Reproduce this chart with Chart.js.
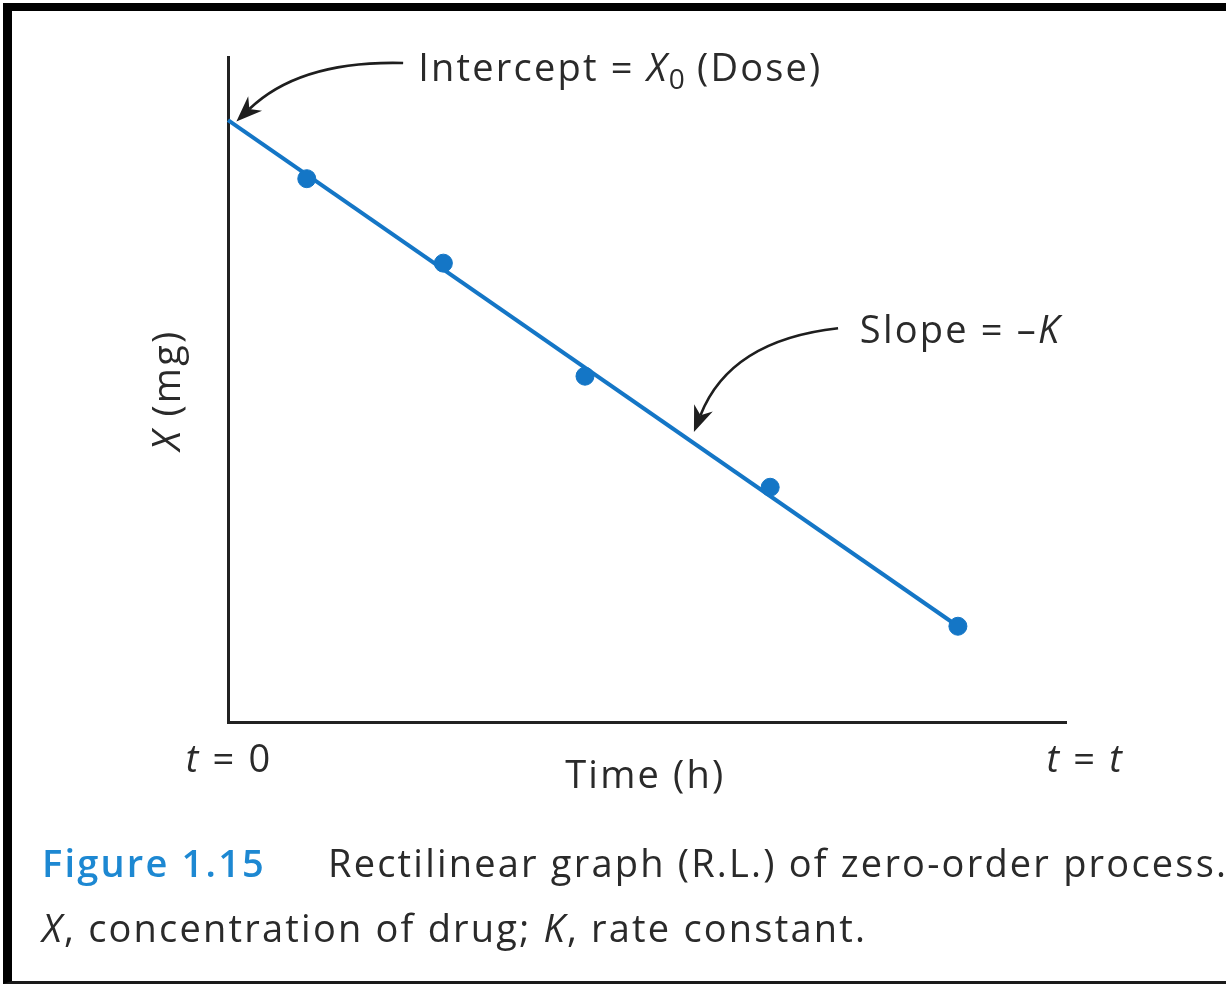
<!DOCTYPE html>
<html>
<head>
<meta charset="utf-8">
<script src="https://cdn.jsdelivr.net/npm/chart.js@4/dist/chart.umd.min.js"></script>
<style>
  html, body { margin: 0; padding: 0; background: #fff; overflow: hidden; }
  #frame {
    position: absolute; left: 3px; top: 3px; width: 1300px; height: 970px;
    border-left: 9px solid #000; border-top: 8px solid #000; border-bottom: 3px solid #1a1a1a;
  }
  #plot { position: absolute; left: 0; top: 0; }
</style>
</head>
<body>
<div id="frame"></div>
<canvas id="plot" width="1226" height="984"></canvas>
<script>
// measured amounts of drug remaining at each sampling time
const sampleTimes = [0.94, 2.57, 4.26, 6.47, 8.71];
const sampleAmounts = [8.17, 6.90, 5.20, 3.53, 1.44];

// fitted zero-order line: starts at the dose, ends at the last sample
const fitTimes = [0, 8.71];
const fitAmounts = [9.05, 1.44];

const BLUE = '#1476c6';
const INK = '#2a2a2a';
const FONT = '"Open Sans", Lato, sans-serif';
const SIZE = 38;
const SPACING = 2.2;

function font(size, style) {
  return (style || '') + ' ' + size + 'px ' + FONT;
}

// draws a run of text pieces with their own style, left/center aligned at x
function drawRich(ctx, x, y, parts, align) {
  let total = 0;
  ctx.letterSpacing = '0px';
  parts.forEach(p => {
    ctx.font = font(p.size, p.style);
    p.w = ctx.measureText(p.text).width + SPACING * p.text.length;
    total += p.w + (p.gap || 0);
  });
  let cx = align === 'center' ? x - total / 2 : x;
  ctx.textAlign = 'left';
  ctx.textBaseline = 'alphabetic';
  ctx.letterSpacing = SPACING + 'px';
  parts.forEach(p => {
    ctx.font = font(p.size, p.style);
    ctx.fillStyle = p.color || INK;
    ctx.fillText(p.text, cx, y + (p.dy || 0));
    cx += p.w + (p.gap || 0);
  });
  ctx.letterSpacing = '0px';
}

function curvedArrow(ctx, from, ctrl, tip) {
  ctx.save();
  ctx.strokeStyle = '#1e1e1e';
  ctx.fillStyle = '#1e1e1e';
  ctx.lineWidth = 2.6;
  const ang = Math.atan2(tip.y - ctrl.y, tip.x - ctrl.x);
  const len = 26, half = 10, notch = 8;
  const back = { x: tip.x - Math.cos(ang) * (len - notch), y: tip.y - Math.sin(ang) * (len - notch) };
  ctx.beginPath();
  ctx.moveTo(from.x, from.y);
  ctx.quadraticCurveTo(ctrl.x, ctrl.y, back.x, back.y);
  ctx.stroke();
  const bx = tip.x - Math.cos(ang) * len, by = tip.y - Math.sin(ang) * len;
  const nx = -Math.sin(ang), ny = Math.cos(ang);
  ctx.beginPath();
  ctx.moveTo(tip.x, tip.y);
  ctx.lineTo(bx + nx * half, by + ny * half);
  ctx.lineTo(back.x, back.y);
  ctx.lineTo(bx - nx * half, by - ny * half);
  ctx.closePath();
  ctx.fill();
  ctx.restore();
}

const labels = {
  id: 'labels',
  afterDraw(chart) {
    const ctx = chart.ctx;
    const xs = chart.scales.x, ys = chart.scales.y;
    const px = v => xs.getPixelForValue(v);
    const py = v => ys.getPixelForValue(v);
    const area = chart.chartArea;

    ctx.save();
    // axis end labels and titles
    drawRich(ctx, px(0) + 1, area.bottom + 50, [
      { text: 't', size: SIZE, style: 'italic' }, { text: ' = 0', size: SIZE }
    ], 'center');
    drawRich(ctx, px(10.23), area.bottom + 50, [
      { text: 't', size: SIZE, style: 'italic' }, { text: ' = ', size: SIZE },
      { text: 't', size: SIZE, style: 'italic' }
    ], 'center');
    drawRich(ctx, px(4.98), area.bottom + 66, [{ text: 'Time (h)', size: SIZE }], 'center');

    ctx.save();
    ctx.translate(area.left - 48, py(4.99));
    ctx.rotate(-Math.PI / 2);
    drawRich(ctx, 0, 0, [
      { text: 'X', size: SIZE, style: 'italic' }, { text: ' (mg)', size: SIZE }
    ], 'center');
    ctx.restore();

    // intercept note
    drawRich(ctx, px(2.27), py(9.83) + 13, [
      { text: 'Intercept = ', size: SIZE },
      { text: 'X', size: SIZE, style: 'italic' },
      { text: '0', size: 28, dy: 8, gap: 10 },
      { text: '(Dose)', size: SIZE }
    ], 'left');
    curvedArrow(ctx, { x: px(2.09), y: py(9.91) }, { x: px(0.86), y: py(9.95) },
      { x: px(0.1), y: py(9.03) });

    // slope note
    drawRich(ctx, px(7.54), py(5.89) + 13, [
      { text: 'Slope = \u2013', size: SIZE },
      { text: 'K', size: SIZE, style: 'italic' }
    ], 'left');
    curvedArrow(ctx, { x: px(7.28), y: py(5.92) }, { x: px(5.99), y: py(5.74) },
      { x: px(5.56), y: py(4.36) });

    // caption
    drawRich(ctx, 42, 877, [
      { text: 'Figure 1.15', size: SIZE, style: '600', color: '#1d88d2', gap: 62 },
      { text: 'Rectilinear graph (R.L.) of zero-order process.', size: SIZE }
    ], 'left');
    drawRich(ctx, 42, 942, [
      { text: 'X', size: SIZE, style: 'italic' },
      { text: ', concentration of drug; ', size: SIZE },
      { text: 'K', size: SIZE, style: 'italic' },
      { text: ', rate constant.', size: SIZE }
    ], 'left');
    ctx.restore();
  }
};

const axisStyle = {
  type: 'linear',
  min: 0,
  max: 10,
  ticks: { display: false },
  grid: { display: false, drawTicks: false },
  border: { display: true, color: '#222', width: 3 }
};

new Chart(document.getElementById('plot').getContext('2d'), {
  type: 'scatter',
  data: {
    datasets: [
      {
        type: 'line',
        data: fitTimes.map((t, i) => ({ x: t, y: fitAmounts[i] })),
        borderColor: BLUE,
        borderWidth: 4,
        pointRadius: 0,
        fill: false,
        clip: false,
        order: 2
      },
      {
        data: sampleTimes.map((t, i) => ({ x: t, y: sampleAmounts[i] })),
        backgroundColor: BLUE,
        borderColor: BLUE,
        pointRadius: 9,
        pointHoverRadius: 9,
        clip: false,
        order: 1
      }
    ]
  },
  options: {
    responsive: false,
    animation: false,
    layout: { padding: { left: 228, top: 57, right: 160, bottom: 262 } },
    plugins: { legend: { display: false }, tooltip: { enabled: false } },
    scales: { x: axisStyle, y: axisStyle }
  },
  plugins: [labels]
});
</script>
</body>
</html>
